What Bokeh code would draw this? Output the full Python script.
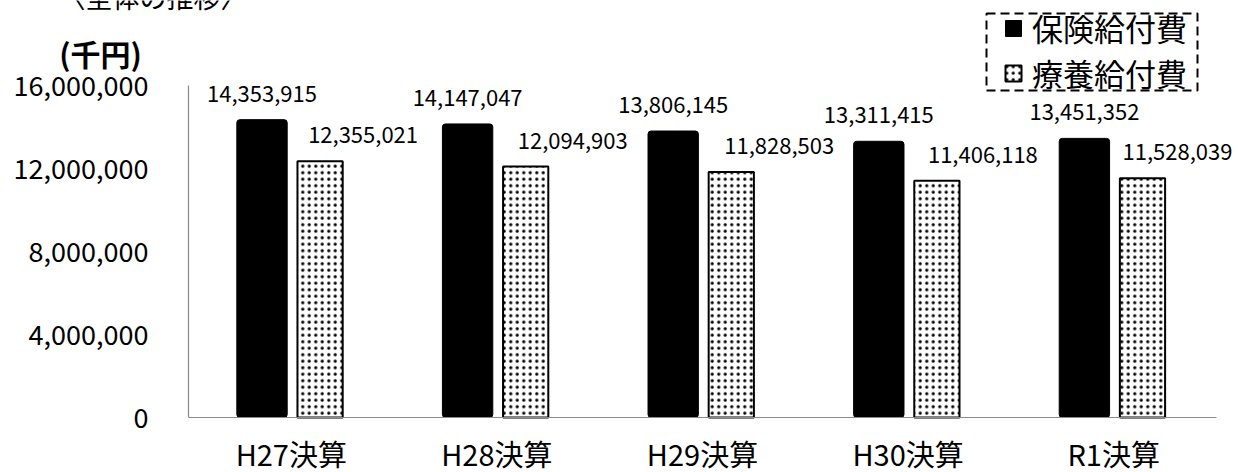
from bokeh.plotting import figure
from bokeh.models import (ColumnDataSource, Range1d, FixedTicker, NumeralTickFormatter,
                          LabelSet, Label, Legend, LegendItem, BoxAnnotation)
from bokeh.core.properties import value
from bokeh.embed import file_html
from bokeh.resources import INLINE

# --- data (thousand yen) ---
periods = ["H27決算", "H28決算", "H29決算", "H30決算", "R1決算"]
insurance_benefits = [14353915, 14147047, 13806145, 13311415, 13451352]
medical_benefits = [12355021, 12094903, 11828503, 11406118, 11528039]
y_ticks = [0, 4000000, 8000000, 12000000, 16000000]
series_names = ["保険給付費", "療養給付費"]
unit_label = "(千円)"
title_text = "〈全体の推移〉"

FONT = "Noto Sans CJK JP"
AXIS_GREY = "#8a8a8a"
W, H = 1238, 472

# page layout: the plotting area spans the whole canvas and the axes are pinned
# at the data origin, so every annotation can sit anywhere on the page
AXIS_LEFT_PX, AXIS_RIGHT_PX = 188, 1216
AXIS_TOP_PX, AXIS_BOTTOM_PX = 85, 417
Y_MAX = 16000000
n = len(periods)
px_per_x = (AXIS_RIGHT_PX - AXIS_LEFT_PX) / n
px_per_y = (AXIS_BOTTOM_PX - AXIS_TOP_PX) / Y_MAX


def px_x(px):
    return (px - AXIS_LEFT_PX) / px_per_x


def px_y(py):
    return (AXIS_BOTTOM_PX - py) / px_per_y


INS_OFF, MED_OFF = -0.1425, 0.14
centers = [i + 0.5 for i in range(n)]
med_label_nudge = [43, 47, 48, 46, 35]   # px, keeps the last label on the page

src = ColumnDataSource(dict(
    period=periods,
    x_ins=[c + INS_OFF for c in centers],
    x_med=[c + MED_OFF for c in centers],
    ins=insurance_benefits,
    med=medical_benefits,
    ins_txt=[f"{v:,}" for v in insurance_benefits],
    med_txt=[f"{v:,}" for v in medical_benefits],
    med_dx=med_label_nudge,
))

p = figure(width=W, height=H,
           x_range=Range1d(px_x(0), px_x(W)), y_range=Range1d(px_y(H), px_y(0)),
           output_backend="svg", toolbar_location=None,
           min_border=0, min_border_left=0, min_border_right=0,
           min_border_top=0, min_border_bottom=0)
p.outline_line_color = None
p.background_fill_color = "white"
p.border_fill_color = "white"
p.xgrid.grid_line_color = None
p.ygrid.grid_line_color = None

r_ins = p.vbar(x="x_ins", top="ins", width=0.245, source=src,
               fill_color="black", line_color="black", line_width=1, border_radius=3)
r_med = p.vbar(x="x_med", top="med", width=0.22, source=src,
               fill_color="white", line_color="black", line_width=2,
               hatch_pattern="dot", hatch_color="black", hatch_scale=6.5, hatch_weight=0.8)

# axes pinned at the origin
yax, xax = p.yaxis[0], p.xaxis[0]
yax.fixed_location = 0
yax.bounds = (0, Y_MAX)
yax.ticker = FixedTicker(ticks=y_ticks)
yax.formatter = NumeralTickFormatter(format="0,0")
yax.major_label_standoff = 40
yax.major_label_text_font = FONT
yax.major_label_text_font_size = "27px"

xax.fixed_location = 0
xax.bounds = (0, n)
xax.ticker = FixedTicker(ticks=centers)
xax.major_label_overrides = {c: name for c, name in zip(centers, periods)}
xax.major_label_standoff = 14
xax.major_label_text_font = FONT
xax.major_label_text_font_size = "29px"

for ax in (xax, yax):
    ax.axis_line_color = AXIS_GREY
    ax.axis_line_width = 1.2
    ax.major_tick_line_color = None
    ax.minor_tick_line_color = None
    ax.major_tick_out = 0
    ax.major_tick_in = 0
    ax.major_label_text_color = "black"

# value labels
p.add_layout(LabelSet(x="x_ins", y="ins", text="ins_txt", source=src,
                      text_align="center", text_baseline="middle", y_offset=26,
                      text_font=value(FONT), text_font_size="22px", text_color="black"))
p.add_layout(LabelSet(x="x_med", y="med", text="med_txt", source=src,
                      text_align="center", text_baseline="middle",
                      x_offset="med_dx", y_offset=26,
                      text_font=value(FONT), text_font_size="22px", text_color="black"))

# unit and (mostly off-page) heading
p.add_layout(Label(x=px_x(100), y=px_y(52), text=unit_label,
                   text_align="center", text_baseline="middle", text_font=FONT,
                   text_font_size="30px", text_font_style="bold", text_color="black"))
p.add_layout(Label(x=px_x(58), y=px_y(-4), text=title_text,
                   text_align="left", text_baseline="alphabetic", text_font=FONT,
                   text_font_size="27px", text_color="black"))

# legend with a dashed frame
p.add_layout(BoxAnnotation(left=px_x(986), right=px_x(1197), top=px_y(13), bottom=px_y(90),
                           fill_alpha=0, line_color="black", line_alpha=1, line_width=2,
                           line_dash="9 5"))
legend = Legend(items=[LegendItem(label=series_names[0], renderers=[r_ins]),
                       LegendItem(label=series_names[1], renderers=[r_med])],
                location=(1003, H - 95), orientation="vertical",
                border_line_color=None, background_fill_alpha=0,
                label_text_font=FONT, label_text_font_size="31px", label_text_color="black",
                glyph_width=20, glyph_height=20, label_standoff=9,
                padding=0, spacing=-7, margin=0)
p.add_layout(legend)

open("out.html", "w").write(file_html(p, INLINE))
